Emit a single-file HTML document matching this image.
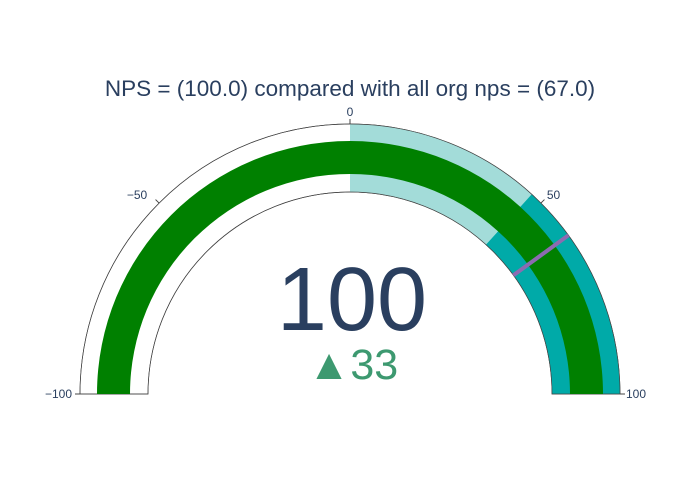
<!DOCTYPE html>
<html><head><meta charset="utf-8"><style>
body{margin:0;background:#fff;}
svg{display:block;font-family:"Liberation Sans",sans-serif;}
</style></head><body>
<svg id="c" width="700" height="500">
<text x="350" y="96" text-anchor="middle" font-size="22.5" fill="#2a3f5f">NPS = (100.0) compared with all org nps = (67.0)</text>
<g id="g"></g>
<text x="352" y="330" text-anchor="middle" font-size="90" fill="#2a3f5f">100</text>
<text x="353" y="379" text-anchor="middle" font-size="43" fill="#3d9970">▲33</text>
</svg>
<script>
const rangeMin=-100, rangeMax=100;
const gaugeValue=[100];
const thresholdValue=[60];
const stepStarts=[0,47];
const stepEnds=[47,100];
const stepColors=['#a3dcd9','#00aaa8'];
const tickValues=[-100,-50,0,50,100];
const tickLabels=['−100','−50','0','50','100'];
const cx=350,cy=394,R=270,r=202,bo=253,bi=220;
const ns='http://www.w3.org/2000/svg',g=document.getElementById('g');
function ang(v){return Math.PI*(1-(v-rangeMin)/(rangeMax-rangeMin));}
function pt(v,rad){const a=ang(v);return [cx+rad*Math.cos(a),cy-rad*Math.sin(a)];}
function arc(v0,v1,ro,ri){const a=pt(v0,ro),b=pt(v1,ro),c=pt(v1,ri),d=pt(v0,ri);
return `M${a}A${ro},${ro} 0 0 1 ${b}L${c}A${ri},${ri} 0 0 0 ${d}Z`;}
function add(tag,at){const e=document.createElementNS(ns,tag);for(const k in at)e.setAttribute(k,at[k]);g.appendChild(e);return e;}
let e=add('path',{d:arc(rangeMin,rangeMax,R,r),fill:'#fff',stroke:'#444','stroke-width':0.7});


stepStarts.forEach((s,i)=>{const p=add('path',{d:arc(s,stepEnds[i],R,r),fill:stepColors[i]});

});
e=add('path',{d:arc(rangeMin,rangeMax,R,r),fill:'none',stroke:'#444','stroke-width':0.7});


e=add('path',{d:arc(rangeMin,gaugeValue[0],bo,bi),fill:'#008000'});


const t0=pt(thresholdValue[0],r),t1=pt(thresholdValue[0],R);
e=add('line',{x1:t0[0],y1:t0[1],x2:t1[0],y2:t1[1],stroke:'#8c6bb1','stroke-width':4});


tickValues.forEach((v,i)=>{const a=pt(v,R),b=pt(v,R+5),l=pt(v,R+14);
const tk=add('line',{x1:a[0],y1:a[1],x2:b[0],y2:b[1],stroke:'#444','stroke-width':1});


const an=ang(v);let anchor=Math.abs(Math.cos(an))<0.2?'middle':(Math.cos(an)>0?'start':'end');
let lx=l[0],ly=l[1]+6; if(anchor==='start')lx-=4; if(anchor==='end')lx-=2;
if(Math.abs(Math.sin(an))<0.1){lx=a[0]+(Math.cos(an)>0?6:-8);ly=cy+4;}
const tx=add('text',{x:lx,y:ly,'text-anchor':anchor,'font-size':12,fill:'#2a3f5f'});tx.textContent=tickLabels[i];

});
</script>
</body></html>
